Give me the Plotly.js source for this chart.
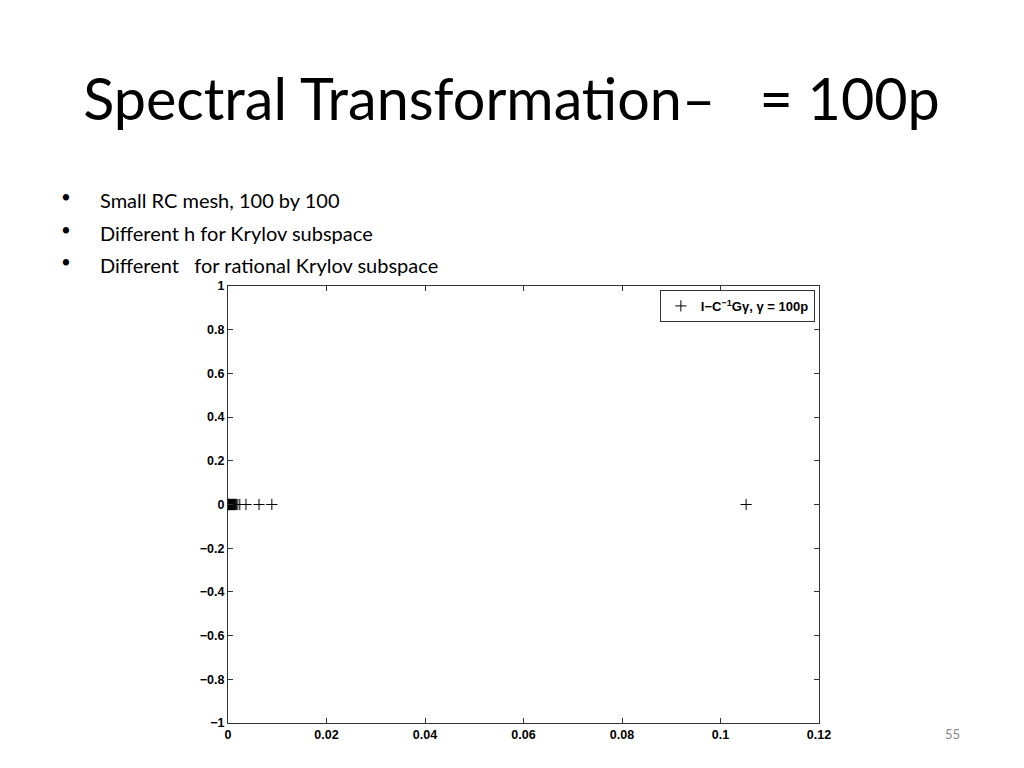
<!DOCTYPE html>
<html><head><meta charset="utf-8">
<script src="https://cdn.plot.ly/plotly-3.0.1.min.js"></script>
<style>html,body{margin:0;padding:0;background:#fff}#chart{width:1024px;height:768px}</style>
</head><body><div id="chart"></div>
<script>
const eigX = [0, 0.00003, 0.00006, 0.0001, 0.00015, 0.0002, 0.0003, 0.0004, 0.0005, 0.0006, 0.0007, 0.0008, 0.0009, 0.001, 0.0011, 0.0012, 0.0013, 0.0014, 0.0015, 0.0017, 0.0020, 0.0024, 0.00365, 0.0063, 0.0089, 0.1052];
const eigY = [0, 0, 0, 0, 0, 0, 0, 0, 0, 0, 0, 0, 0, 0, 0, 0, 0, 0, 0, 0, 0, 0, 0, 0, 0, 0];
const seriesName = 'I\u2212C<sup>\u22121</sup>G\u03b3, \u03b3 = 100p';
const xTicks = [0, 0.02, 0.04, 0.06, 0.08, 0.1, 0.12];
const xTickText = ['0', '0.02', '0.04', '0.06', '0.08', '0.1', '0.12'];
const yTicks = [-1, -0.8, -0.6, -0.4, -0.2, 0, 0.2, 0.4, 0.6, 0.8, 1];
const yTickText = ['\u22121', '\u22120.8', '\u22120.6', '\u22120.4', '\u22120.2', '0', '0.2', '0.4', '0.6', '0.8', '1'];
const slideTitle = 'Spectral Transformation\u2013   = 100p';
const bullets = ['Small RC mesh, 100 by 100', 'Different h for Krylov subspace', 'Different   for rational Krylov subspace'];
const pageNumber = '55';

const axisFont = {family: 'Liberation Sans, Arial, sans-serif', size: 12.5, color: '#000', weight: 'bold'};
const trace = {
  x: eigX, y: eigY, type: 'scatter', mode: 'markers', name: seriesName,
  marker: {symbol: 'cross-thin-open', size: 8, color: '#000', line: {color: '#000', width: 1}},
  showlegend: true
};
const annotations = [];
const bulletY = [200, 233, 265];
bullets.forEach((b, i) => {
  annotations.push({xref: 'paper', yref: 'paper', x: (59 - 228) / 591, y: (723 - bulletY[i] + 4) / 437, xanchor: 'left', yanchor: 'middle', text: '\u2022', showarrow: false, font: {family: 'Lato, sans-serif', size: 17, color: '#000'}});
  annotations.push({xref: 'paper', yref: 'paper', x: (98 - 228) / 591, y: (723 - bulletY[i]) / 437, xanchor: 'left', yanchor: 'middle', text: b, showarrow: false, font: {family: 'Lato, sans-serif', size: 20, color: '#000'}});
});
annotations.push({xref: 'paper', yref: 'paper', x: (962 - 228) / 591, y: (723 - 734) / 437, xanchor: 'right', yanchor: 'middle', text: pageNumber, showarrow: false, font: {family: 'Lato, sans-serif', size: 13, color: '#888'}});

const layout = {
  width: 1024, height: 768,
  margin: {l: 228, r: 205, t: 286, b: 45},
  paper_bgcolor: '#fff', plot_bgcolor: '#fff',
  title: {text: slideTitle, x: 0.4995, xref: 'container', xanchor: 'center', y: 1 - 100 / 768, yref: 'container', yanchor: 'middle', font: {family: 'Lato, sans-serif', size: 57.5, color: '#000'}},
  xaxis: {range: [0, 0.12], tickvals: xTicks, ticktext: xTickText, ticks: 'inside', ticklen: 5, tickcolor: '#333', showline: true, linecolor: '#333', linewidth: 1, mirror: 'ticks', showgrid: false, zeroline: false, tickfont: axisFont, fixedrange: true},
  yaxis: {range: [-1, 1], tickvals: yTicks, ticktext: yTickText, ticks: 'inside', ticklen: 5, tickcolor: '#333', showline: true, linecolor: '#333', linewidth: 1, mirror: 'ticks', showgrid: false, zeroline: false, tickfont: axisFont, fixedrange: true},
  legend: {x: 0.993, y: 0.991, xanchor: 'right', yanchor: 'top', bordercolor: '#333', borderwidth: 1, bgcolor: '#fff', itemwidth: 30, font: {family: 'Liberation Sans, Arial, sans-serif', size: 13, color: '#000', weight: 'bold'}},
  annotations: annotations,
  showlegend: true
};
Plotly.newPlot('chart', [trace], layout, {displayModeBar: false, staticPlot: true});
</script></body></html>
